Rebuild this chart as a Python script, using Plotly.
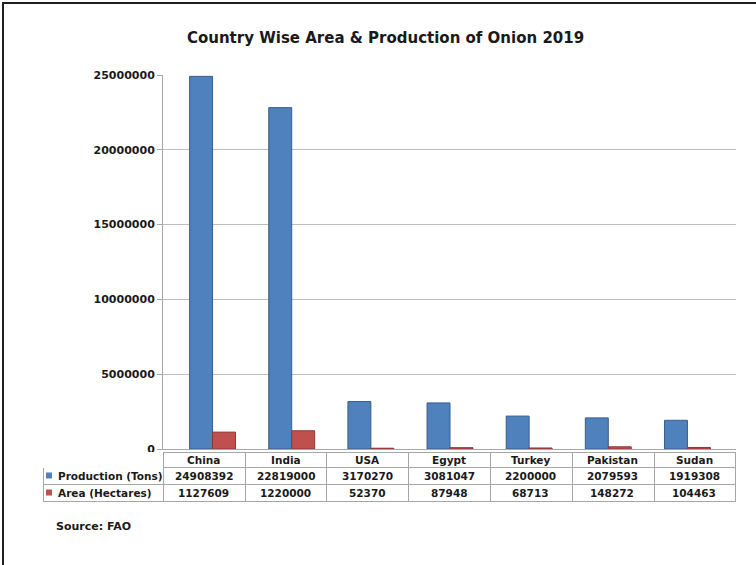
import plotly.graph_objects as go

countries = ["China", "India", "USA", "Egypt", "Turkey", "Pakistan", "Sudan"]
production = [24908392, 22819000, 3170270, 3081047, 2200000, 2079593, 1919308]
area = [1127609, 1220000, 52370, 87948, 68713, 148272, 104463]
y_ticks = [0, 5000000, 10000000, 15000000, 20000000, 25000000]
row_labels = ["Production (Tons)", "Area (Hectares)"]

W, H = 756, 565
BLUE = "#4F81BD"
RED = "#C0504D"
FONT = "DejaVu Sans"
TXT = "#1a1a1a"
GRID = "#bfbfbf"
LINE = "#a6a6a6"

def px_x(p):
    return p / W

def px_y(p):
    return 1 - p / H

fig = go.Figure()
# invisible trace so the main (axis/grid) subplot exists
fig.add_trace(go.Scatter(x=[countries[0]], y=[0], mode="markers",
                         marker=dict(opacity=0), hoverinfo="skip",
                         showlegend=False, xaxis="x", yaxis="y"))
fig.add_trace(go.Bar(x=countries, y=production, name=row_labels[0],
                     marker=dict(color=BLUE, line=dict(color="#385D8A", width=1)),
                     showlegend=False, xaxis="x2", yaxis="y"))
fig.add_trace(go.Bar(x=countries, y=area, name=row_labels[1],
                     marker=dict(color=RED, line=dict(color="#8C3836", width=1)),
                     showlegend=False, xaxis="x2", yaxis="y"))

# data table grid (texts are placed as annotations so they sit centred in rows)
TBL_L, COL0_R, TBL_R = 43, 163, 735
col_w = (TBL_R - COL0_R) / len(countries)
ROW_TOP = [452, 467, 484]
ROW_H = [15, 17, 17]
fig.add_trace(go.Table(
    domain=dict(x=[px_x(TBL_L), px_x(TBL_R + 1)], y=[px_y(530), px_y(ROW_TOP[0])]),
    columnwidth=[COL0_R - TBL_L] + [col_w] * len(countries),
    header=dict(values=[""] * (len(countries) + 1),
                height=ROW_H[0],
                fill=dict(color="white"),
                line=dict(color=["white"] + [LINE] * len(countries), width=1)),
    cells=dict(values=[["", ""]] * (len(countries) + 1),
               height=ROW_H[1],
               fill=dict(color="white"),
               line=dict(color=LINE, width=1)),
    hoverinfo="skip",
))

tfont = dict(family=FONT, size=10.5, color=TXT, weight="bold")
annotations = []
row_c = [ROW_TOP[i] + ROW_H[i] / 2 for i in range(3)]
for i, c in enumerate(countries):
    xc = px_x(COL0_R + col_w * (i + 0.5))
    for r, txt in enumerate([c, str(production[i]), str(area[i])]):
        annotations.append(dict(text=txt, xref="paper", yref="paper",
                                x=xc, y=px_y(row_c[r]), xanchor="center",
                                yanchor="middle", showarrow=False, font=tfont))
for r, lab in enumerate(row_labels):
    annotations.append(dict(text=lab, xref="paper", yref="paper",
                            x=px_x(56), y=px_y(row_c[r + 1]), xanchor="left",
                            yanchor="middle", showarrow=False, font=tfont))
annotations.append(dict(text="Source: FAO", xref="paper", yref="paper",
                        x=px_x(54), y=px_y(526), xanchor="left", yanchor="middle",
                        showarrow=False,
                        font=dict(family=FONT, size=11, color=TXT, weight="bold")))

shapes = [dict(type="rect", xref="paper", yref="paper",
               x0=px_x(3), x1=1.01, y0=-0.01, y1=px_y(3),
               line=dict(color="#202020", width=2))]
for r, col in enumerate([BLUE, RED]):
    yc = row_c[r + 1]
    shapes.append(dict(type="rect", xref="paper", yref="paper",
                       x0=px_x(46), x1=px_x(52), y0=px_y(yc + 3), y1=px_y(yc - 3),
                       fillcolor=col, line=dict(width=0)))

fig.update_layout(
    width=W, height=H,
    margin=dict(l=0, r=0, t=0, b=0, autoexpand=False),
    paper_bgcolor="white", plot_bgcolor="rgba(0,0,0,0)",
    barmode="group", bargap=0.42, bargroupgap=0.0,
    title=dict(text="Country Wise Area & Production of Onion 2019",
               x=0.51, xanchor="center", y=px_y(38), yanchor="middle",
               font=dict(family=FONT, size=15, color=TXT, weight="bold")),
    xaxis=dict(domain=[px_x(COL0_R), px_x(TBL_R + 1)], range=[-0.5, 6.5],
               showticklabels=False, showline=True, linecolor=LINE,
               showgrid=False, ticks="", anchor="y", automargin=False),
    xaxis2=dict(domain=[px_x(173), px_x(727)], range=[-0.5, 6.5],
                anchor="y", visible=False, showgrid=False, automargin=False),
    yaxis=dict(domain=[px_y(449), px_y(75)], range=[0, 25000000],
               tickvals=y_ticks, tickformat="d", anchor="x", automargin=False,
               showline=True, linecolor=LINE, linewidth=1,
               ticks="outside", ticklen=5, tickcolor=LINE,
               showgrid=True, gridcolor=GRID, gridwidth=1,
               zeroline=False,
               tickfont=dict(family=FONT, size=11, color=TXT, weight="bold")),
    shapes=shapes,
    annotations=annotations,
)

fig.write_html("out.html", config={"displayModeBar": False},
               post_script="document.body.style.margin='0';")
